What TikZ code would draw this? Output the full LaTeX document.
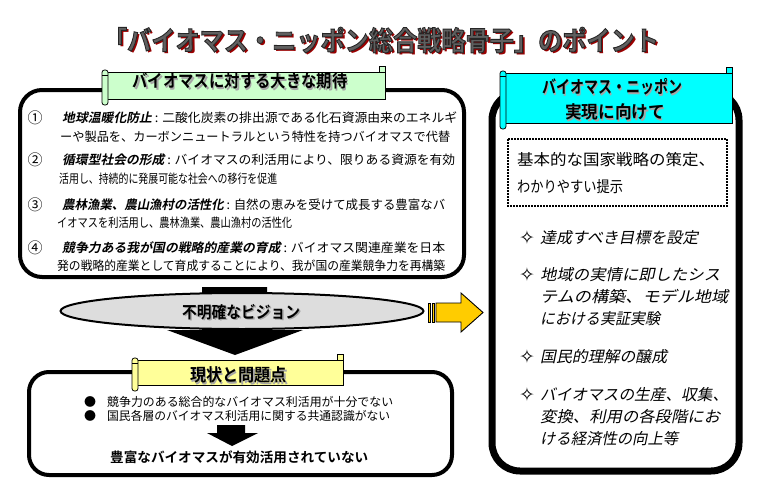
\documentclass[tikz,border=0pt]{standalone}
\usepackage{fontspec}
\usepackage{graphicx}
\usetikzlibrary{shapes.geometric}
\setmainfont{Noto Sans CJK JP}[BoldFont={* Bold}]
\newfontfamily\jpi{Noto Sans CJK JP}[FakeSlant=0.2]
\newfontfamily\jpbi{Noto Sans CJK JP Bold}[FakeSlant=0.2]
\newfontfamily\djv{DejaVu Sans}
\definecolor{greenb}{HTML}{CCFFCC}
\definecolor{yellowb}{HTML}{FFFF99}
\definecolor{cyanb}{HTML}{00FFFF}
\definecolor{ellg}{HTML}{DDDDDD}
\definecolor{gold}{HTML}{FFCC00}
\definecolor{titlegray}{HTML}{606060}
\definecolor{titlered}{HTML}{990000}
\newcommand\fs[1]{\fontsize{#1}{#1}\selectfont}
\newcommand\fw[2]{\resizebox{#1pt}{\height}{#2}}
\newcommand\bi[1]{{\jpbi #1}}
\newcommand\outl[1]{\special{pdf:literal direct 2 Tr 0.9 w 0.15 0.15 0.15 RG}#1\special{pdf:literal direct 0 Tr 0 0 0 RG}}
\newcommand\banner[5]{%
  \draw[fill=#1, line width=0.8] (#2,#3) rectangle (#4,#5);
  \draw[fill=#1, line width=0.8, rounded corners=2.5] ({#2-3},{#3-2}) rectangle ({#2+3},{#5+6});
  \draw[line width=0.6] ({#2-3},{#3+3}) -- ({#2+3},{#3+3});
  \draw[fill=#1, line width=0.8] ({#4-6},{#3-6}) rectangle (#4,#3);
}
\tikzset{
  t/.style={inner sep=0pt, anchor=west},
  c/.style={inner sep=0pt, anchor=center},
  item/.style={t, font=\fs{12.5}},
  num/.style={c, font=\fs{15}},
  ritem/.style={t, font=\jpi\fs{15.5}},
  star/.style={c, font=\djv\fs{19}},
  bhead/.style={c, font=\bfseries\fs{17.5}},
  bshadow/.style={c, font=\bfseries\fs{17.5}, text=black!35},
  roundbox/.style={draw=black, fill=white},
}
\begin{document}
\begin{tikzpicture}[x=1pt,y=-1pt]
\useasboundingbox (0,0) rectangle (761,498);
\fill[white] (0,0) rectangle (761,498);

% ---------- title ----------
\node[c, font=\bfseries\fs{27}, text=titlered] at (383.5,42.5) {\fw{556}{「バイオマス・ニッポン総合戦略骨子」のポイント}};
\node[c, font=\bfseries\fs{27}, text=titlegray] (title) at (381,40) {\outl{\fw{556}{「バイオマス・ニッポン総合戦略骨子」のポイント}}};

% ---------- right box ----------
\draw[roundbox, line width=7, rounded corners=28] (492,92) rectangle (739,471);
\banner{cyanb}{503}{73}{732}{123}
\node[bshadow] at (613.5,88.5) {\fw{140}{バイオマス・ニッポン}};
\node[bhead] (rb1) at (612,87) {\fw{140}{バイオマス・ニッポン}};
\node[bshadow] at (616.5,113.5) {\fw{100}{実現に向けて}};
\node[bhead] (rb2) at (615,112) {\fw{100}{実現に向けて}};

\draw[line width=1.8, dash pattern=on 1.6pt off 1.4pt] (508,139) rectangle (727,206);
\node[t, font=\fs{15.5}] (d1) at (517,160) {\fw{198}{基本的な国家戦略の策定、}};
\node[t, font=\fs{15.5}] (d2) at (517,187) {\fw{106}{わかりやすい提示}};

\node[star] (s1) at (527,238) {✧};
\node[ritem] (r1) at (540,238) {\fw{158}{達成すべき目標を設定}};
\node[star] (s2) at (527,275) {✧};
\node[ritem] (r2a) at (540,275) {\fw{180}{地域の実情に即したシス}};
\node[ritem] (r2b) at (540,297) {\fw{188}{テムの構築、モデル地域}};
\node[ritem] (r2c) at (540,319) {\fw{120}{における実証実験}};
\node[star] (s3) at (527,357) {✧};
\node[ritem] (r3) at (540,357) {\fw{127}{国民的理解の醸成}};
\node[star] (s4) at (527,395) {✧};
\node[ritem] (r4a) at (540,395) {\fw{188}{バイオマスの生産、収集、}};
\node[ritem] (r4b) at (540,417) {\fw{180}{変換、利用の各段階にお}};
\node[ritem] (r4c) at (540,439) {\fw{138}{ける経済性の向上等}};

% ---------- upper left box ----------
\draw[roundbox, line width=4, rounded corners=22] (20,90) rectangle (464,277);
\banner{greenb}{105}{72}{385}{99}
\node[bshadow] at (241.5,82.5) {\fw{215}{バイオマスに対する大きな期待}};
\node[bhead] (gb) at (240,81) {\fw{215}{バイオマスに対する大きな期待}};

\node[num] (n1) at (35,118) {①};
\node[item] (i1a) at (62,118) {\fw{395}{\bi{地球温暖化防止} : 二酸化炭素の排出源である化石資源由来のエネルギ}};
\node[item] (i1b) at (60,137) {\fw{390}{ーや製品を、カーボンニュートラルという特性を持つバイオマスで代替}};
\node[num] (n2) at (35,160) {②};
\node[item] (i2a) at (62,160) {\fw{393}{\bi{循環型社会の形成} : バイオマスの利活用により、限りある資源を有効}};
\node[item] (i2b) at (59,179) {\fw{218}{活用し、持続的に発展可能な社会への移行を促進}};
\node[num] (n3) at (35,205) {③};
\node[item] (i3a) at (62,205) {\fw{383}{\bi{農林漁業、農山漁村の活性化} : 自然の恵みを受けて成長する豊富なバ}};
\node[item] (i3b) at (57,223) {\fw{235}{イオマスを利活用し、農林漁業、農山漁村の活性化}};
\node[num] (n4) at (35,248) {④};
\node[item] (i4a) at (62,248) {\fw{383}{\bi{競争力ある我が国の戦略的産業の育成} : バイオマス関連産業を日本}};
\node[item] (i4b) at (57,266) {\fw{388}{発の戦略的産業として育成することにより、我が国の産業競争力を再構築}};

% ---------- big black arrow and ellipse ----------
\fill[black] (202,287) -- (267,287) -- (267,330) -- (303,330) -- (235,355) -- (167,330) -- (202,330) -- cycle;
\node[ellipse, draw=black, line width=2, fill=ellg, minimum width=363pt, minimum height=36pt, inner sep=0pt] (vision) at (242,311) {};
\node[c, font=\bfseries\fs{16.5}, text=black!35] at (242.5,313.5) {\fw{118}{不明確なビジョン}};
\node[c, font=\bfseries\fs{16.5}] (visiont) at (241,312) {\fw{118}{不明確なビジョン}};

% ---------- yellow arrow ----------
\draw[fill=gold, line width=0.9] (428,303) rectangle (430.5,322);
\draw[fill=gold, line width=0.9] (432,303) rectangle (434.5,322);
\draw[fill=gold, line width=0.9] (436,303) -- (461,303) -- (461,293) -- (483,312.5) -- (461,332) -- (461,322) -- (436,322) -- cycle;

% ---------- lower box ----------
\draw[roundbox, line width=4, rounded corners=20] (29,372) rectangle (452,475);
\banner{yellowb}{135}{360}{343}{385}
\node[bshadow] at (240,376.5) {\fw{97}{現状と問題点}};
\node[bhead] (yb) at (238.5,375) {\fw{97}{現状と問題点}};

\node[c, font=\fs{12}] (bu1) at (90,402) {●};
\node[t, font=\fs{12}] (l1) at (107,402) {\fw{286}{競争力のある総合的なバイオマス利活用が十分でない}};
\node[c, font=\fs{12}] (bu2) at (90,416) {●};
\node[t, font=\fs{12}] (l2) at (107,416) {\fw{283}{国民各層のバイオマス利活用に関する共通認識がない}};
\fill[black] (217,425) -- (245,425) -- (245,433) -- (258,433) -- (232,446) -- (207,433) -- (217,433) -- cycle;
\node[t, font=\bfseries\fs{13.6}] (l3) at (110,457) {\fw{258}{豊富なバイオマスが有効活用されていない}};
\end{tikzpicture}
\end{document}
